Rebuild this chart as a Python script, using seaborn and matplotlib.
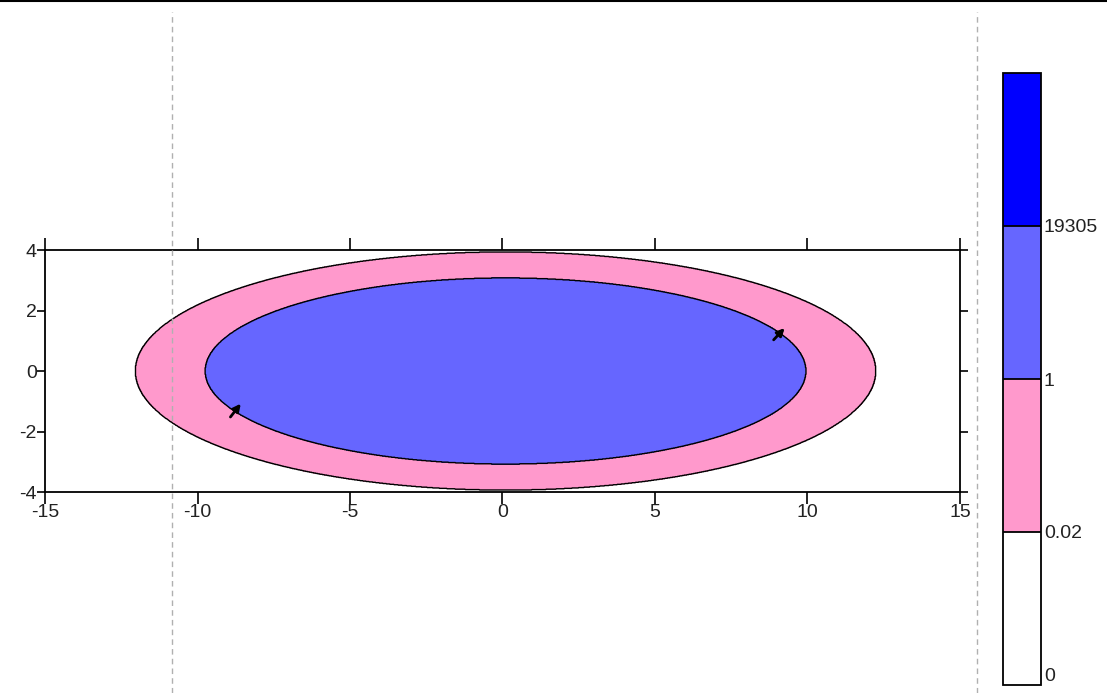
import numpy as np
import matplotlib
matplotlib.use("Agg")
import matplotlib.pyplot as plt
from matplotlib.colors import ListedColormap, BoundaryNorm
from matplotlib.lines import Line2D
import seaborn as sns

# ---- data ----
levels = [0, 0.02, 1, 19305, 38610]
level_labels = ["0", "0.02", "1", "19305"]
level_colors = ["#ffffff", "#ff99cc", "#6666ff", "#0000ff"]
# ellipse boundaries of the contour regions: (center x, semi-axis x, semi-axis y)
outer_ellipse = (0.1, 12.13, 3.93)   # z = 0.02 contour
inner_ellipse = (0.1, 9.84, 3.07)    # z = 1 contour
region_values = [0.01, 0.5, 100.0]   # outside, ring, core
x_ticks = [-15, -10, -5, 0, 5, 10, 15]
y_ticks = [-4, -2, 0, 2, 4]
arrows = [((-8.92, -1.52), (-8.58, -1.08)), ((8.89, 1.03), (9.25, 1.42))]

sns.set_theme(style="white")
plt.rcParams["font.family"] = ["Liberation Sans", "DejaVu Sans"]
plt.rcParams["axes.unicode_minus"] = False

fig = plt.figure(figsize=(11.07, 6.93), dpi=100)
ax = fig.add_axes([45/1107, 1-492/693, 915/1107, 242/693])

xs = np.linspace(-15, 15, 1801)
ys = np.linspace(-4, 4, 601)
X, Y = np.meshgrid(xs, ys)
cx, ax_o, by_o = outer_ellipse
q_out = ((X-cx)/ax_o)**2 + (Y/by_o)**2
cx, ax_i, by_i = inner_ellipse
q_in = ((X-cx)/ax_i)**2 + (Y/by_i)**2
Z = np.where(q_in <= 1, region_values[2], np.where(q_out <= 1, region_values[1], region_values[0]))

cmap = ListedColormap(level_colors)
norm = BoundaryNorm(levels, cmap.N)
cf = ax.contourf(X, Y, Z, levels=levels, cmap=cmap, norm=norm)
ax.contour(X, Y, Z, levels=[levels[1], levels[2]], colors="black", linewidths=1.0)

for (x0, y0), (x1, y1) in arrows:
    ax.annotate("", xy=(x1, y1), xytext=(x0, y0),
                arrowprops=dict(arrowstyle="-|>", color="black", lw=2.0,
                                mutation_scale=11, shrinkA=0, shrinkB=0))

ax.set_xlim(-15, 15)
ax.set_ylim(-4, 4)
ax.set_xticks(x_ticks)
ax.set_yticks(y_ticks)
ax.set_xticklabels([str(t) for t in x_ticks])
ax.set_yticklabels([str(t) for t in y_ticks])
ax.tick_params(axis="x", direction="out", length=8.5, width=1.2, color="black",
               top=True, bottom=True, labelsize=14, pad=0, labelcolor="#222222")
ax.tick_params(axis="y", direction="out", length=6, width=1.2, color="black",
               left=True, right=True, labelsize=14, pad=0, labelcolor="#222222")
for s in ax.spines.values():
    s.set_color("black")
    s.set_linewidth(1.3)
ax.set_facecolor("white")

# colorbar
cax = fig.add_axes([1003/1107, 1-685/693, 38/1107, 612/693])
cb = fig.colorbar(cf, cax=cax, spacing="uniform", drawedges=True)
cb.set_ticks(levels[:4])
cb.set_ticklabels(level_labels)
cax.minorticks_off()
cb.outline.set_edgecolor("black")
cb.outline.set_linewidth(1.3)
cb.dividers.set_color("black")
cb.dividers.set_linewidth(1.3)
cax.tick_params(which="both", length=0, pad=2, labelsize=14, labelcolor="#222222")
cax.get_yticklabels()[0].set_verticalalignment("bottom")

# figure decorations: top border and dashed guides
fig.add_artist(Line2D([0, 1], [1-1/693, 1-1/693], transform=fig.transFigure,
                      color="black", lw=1.5))
for px in (172, 977):
    fig.add_artist(Line2D([px/1107, px/1107], [0, 1-12/693], transform=fig.transFigure,
                          color="#b0b0b0", lw=1, ls=(0, (4, 3))))

fig.savefig("out.png", dpi=100)
